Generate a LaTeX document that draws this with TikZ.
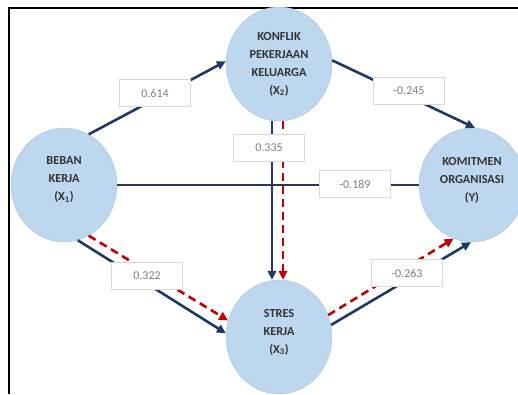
\documentclass[tikz,border=0pt]{standalone}
\usepackage{fontspec}
\setmainfont{Carlito}
\usetikzlibrary{arrows.meta,shapes.geometric}
\definecolor{varFill}{HTML}{BDD7EE}
\definecolor{varLine}{HTML}{A9C6E3}
\definecolor{navyLine}{HTML}{1F3864}
\definecolor{redLine}{HTML}{C00000}
\definecolor{coefLine}{HTML}{D9D9D9}
\definecolor{coefText}{HTML}{7F7F7F}
\tikzset{
	construct/.style={ellipse, fill=varFill, draw=varLine, line width=0.4pt,
		minimum width=106pt, minimum height=114pt, inner sep=0pt, align=center,
		font=\fontsize{12.3}{18}\selectfont\bfseries, text=black!80},
	direct/.style={draw=navyLine, line width=2.6pt, -{Triangle[length=9pt,width=8.5pt]}},
	plain/.style={draw=navyLine, line width=2.6pt},
	indirect/.style={draw=redLine, line width=2.6pt, dash pattern=on 8pt off 5pt,
		-{Triangle[length=9pt,width=8.5pt]}},
	coef/.style={fill=white, draw=coefLine, line width=0.6pt, minimum width=71pt,
		minimum height=27pt, inner sep=0pt, font=\fontsize{12}{13}\selectfont, text=coefText}
}

\begin{document}
\begin{tikzpicture}[x=1pt,y=-1pt]
	\useasboundingbox (0,0) rectangle (518,394);
	\draw[black, line width=2pt] (9,394) -- (9,8) -- (518,8);
	% constructs (3-line labels sit a little above centre)
	\node[construct] (x1) at (64,185) {BEBAN\\KERJA\\(X\textsubscript{1})\\[-6pt]\mbox{}};
	\node[construct] (x2) at (279,64) {KONFLIK\\PEKERJAAN\\KELUARGA\\(X\textsubscript{2})};
	\node[construct] (x3) at (279,337) {STRES\\KERJA\\(X\textsubscript{3})\\[-6pt]\mbox{}};
	\node[construct] (y) at (472,185) {KOMITMEN\\ORGANISASI\\(Y)\\[-6pt]\mbox{}};
	% paths
	\draw[direct] (x1.64) -- (x2.177);
	\draw[direct] (x2.4) -- (y.87);
	\draw[plain] (x1.east) -- (y.west);
	\draw[direct] ([xshift=-7pt]x2.south) -- ([xshift=-7pt]x3.north);
	\draw[indirect] ([xshift=4pt]x2.south) -- ([xshift=4pt]x3.north);
	\draw[direct] (x1.-76) -- (x3.176);
	\draw[indirect] (x1.-64) -- (x3.162);
	\draw[direct] (x3.13) -- (y.-91);
	\draw[indirect] (x3.24) -- (y.-109);
	% coefficients
	\node[coef] (c12) at (155,93) {0.614};
	\node[coef] (c2y) at (409,91) {-0.245};
	\node[coef] (c1y) at (355,184) {-0.189};
	\node[coef] (c23) at (269,148) {0.335};
	\node[coef] (c13) at (147,276) {0.322};
	\node[coef] (c3y) at (407,273) {-0.263};
\end{tikzpicture}
\end{document}
